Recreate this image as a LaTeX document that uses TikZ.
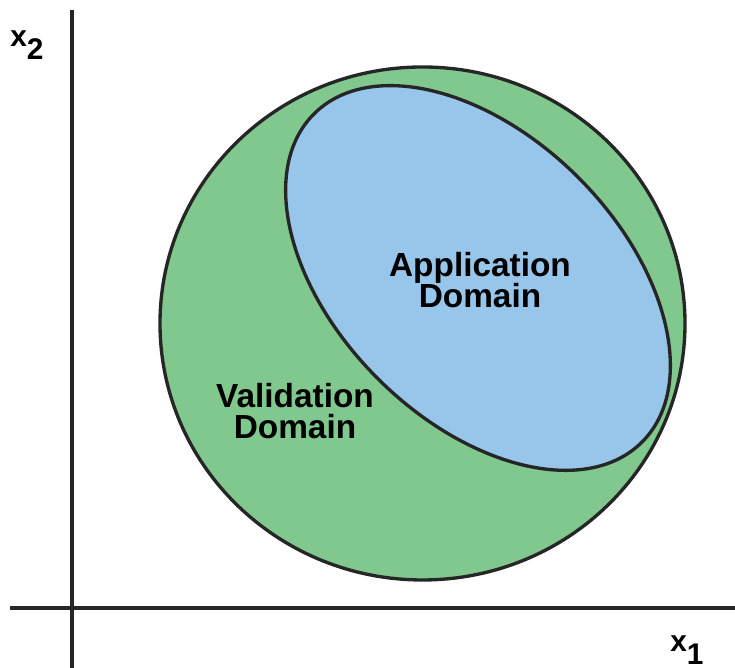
\documentclass[tikz,border=0pt]{standalone}
\usepackage{fontspec}
\setmainfont{Liberation Sans}
\definecolor{validgreen}{HTML}{80C88E}
\definecolor{appblue}{HTML}{98C5EA}
\tikzset{
  domainline/.style={line width=1.9pt, draw=black!85},
  axisline/.style={line width=2.2pt, draw=black!85},
  domlabel/.style={align=center, font=\fontsize{19}{18}\selectfont\bfseries},
  axlabel/.style={font=\fontsize{17}{17}\selectfont\bfseries, inner sep=0pt}
}
\begin{document}
\begin{tikzpicture}[x=0.02cm, y=0.02cm]
\useasboundingbox (0,0) rectangle (735,668);
\filldraw[domainline, fill=validgreen] (422.5,344.5) ellipse [x radius=262.5, y radius=256.5]; % validation domain
\filldraw[domainline, fill=appblue, rotate around={-45:(478,390)}] (478,390) ellipse [x radius=232, y radius=142]; % application domain
\draw[axisline] (72,0) -- (72,658); % x2 axis
\draw[axisline] (10,60) -- (735,60); % x1 axis
\node[domlabel] (app) at (480,388) {Application\\Domain};
\node[domlabel] (valid) at (295,257) {Validation\\Domain};
\node[axlabel, anchor=base west] (xtwo) at (10,621) {x\raisebox{-7pt}{2}};
\node[axlabel, anchor=base west] (xone) at (670,16) {x\raisebox{-7pt}{1}};
\end{tikzpicture}
\end{document}
